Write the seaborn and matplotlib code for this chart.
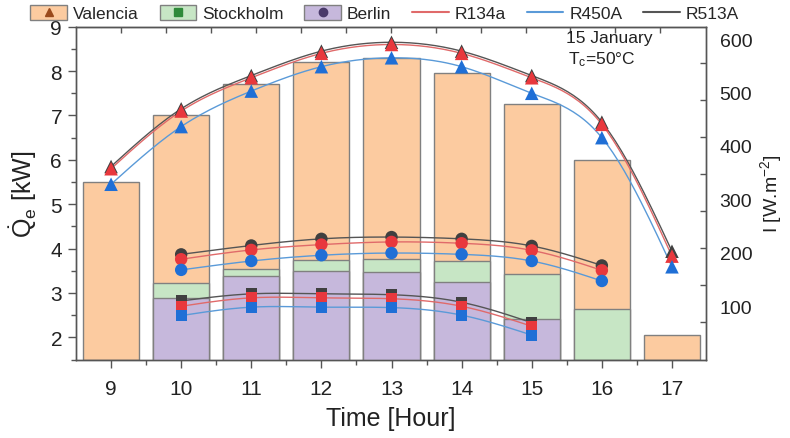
import numpy as np
import pandas as pd
import matplotlib
matplotlib.use("Agg")
import matplotlib.pyplot as plt
from matplotlib.patches import Patch
from matplotlib.lines import Line2D
import seaborn as sns

# ---------------- data ----------------
hours = [9, 10, 11, 12, 13, 14, 15, 16, 17]
# irradiance bars (right axis, W/m2)
irr_valencia = [332, 457, 515, 557, 565, 536, 478, 374, 46]
irr_stockholm_hours = [10, 11, 12, 13, 14, 15, 16]
irr_stockholm = [143, 169, 186, 189, 184, 160, 94]
irr_berlin_hours = [10, 11, 12, 13, 14, 15]
irr_berlin = [115, 156, 165, 163, 145, 75]

# cooling capacity (left axis, kW)
val_hours = [9, 10, 11, 12, 13, 14, 15, 16, 17]
val_R134a = [5.80, 7.10, 7.85, 8.40, 8.60, 8.40, 7.85, 6.80, 3.83]
val_R450A = [5.45, 6.75, 7.55, 8.10, 8.30, 8.10, 7.50, 6.50, 3.59]
val_R513A = [5.85, 7.15, 7.90, 8.45, 8.65, 8.45, 7.90, 6.85, 3.94]

ber_hours = [10, 11, 12, 13, 14, 15, 16]
ber_R134a = [3.76, 3.97, 4.09, 4.15, 4.12, 3.96, 3.51]
ber_R450A = [3.52, 3.72, 3.85, 3.90, 3.87, 3.72, 3.27]
ber_R513A = [3.87, 4.07, 4.22, 4.26, 4.22, 4.06, 3.62]

sto_hours = [10, 11, 12, 13, 14, 15]
sto_R134a = [2.70, 2.89, 2.89, 2.87, 2.70, 2.25]
sto_R450A = [2.49, 2.68, 2.68, 2.67, 2.50, 2.05]
sto_R513A = [2.82, 2.98, 2.98, 2.96, 2.79, 2.33]

refrigerants = ["R134a", "R450A", "R513A"]

# ---------------- style ----------------
sns.set_style("ticks")
plt.rcParams["font.family"] = ["Liberation Sans", "DejaVu Sans"]
plt.rcParams["mathtext.fontset"] = "custom"
plt.rcParams["mathtext.rm"] = "Liberation Sans"
plt.rcParams["mathtext.it"] = "Liberation Sans:italic"

c_val, c_sto, c_ber = "#fccba0", "#c7e6c5", "#c6b8dc"
bar_edge = "#808080"
mk_col = {"R134a": "#e8383d", "R450A": "#1f6fd6", "R513A": "#404040"}
ln_col = {"R134a": "#e06a6a", "R450A": "#5a9ad8", "R513A": "#555555"}
axis_col = "#555555"


def natural_spline(x, y, n=200):
    x = np.asarray(x, float)
    y = np.asarray(y, float)
    k = len(x)
    h = np.diff(x)
    A = np.zeros((k, k))
    b = np.zeros(k)
    A[0, 0] = A[-1, -1] = 1
    for i in range(1, k - 1):
        A[i, i - 1] = h[i - 1]
        A[i, i] = 2 * (h[i - 1] + h[i])
        A[i, i + 1] = h[i]
        b[i] = 6 * ((y[i + 1] - y[i]) / h[i] - (y[i] - y[i - 1]) / h[i - 1])
    M = np.linalg.solve(A, b)
    xs = np.linspace(x[0], x[-1], n)
    idx = np.clip(np.searchsorted(x, xs) - 1, 0, k - 2)
    x0, x1 = x[idx], x[idx + 1]
    hh = x1 - x0
    t0, t1 = x1 - xs, xs - x0
    ys = (M[idx] * t0 ** 3 + M[idx + 1] * t1 ** 3) / (6 * hh) \
        + (y[idx] / hh - M[idx] * hh / 6) * t0 \
        + (y[idx + 1] / hh - M[idx + 1] * hh / 6) * t1
    return xs, ys


fig = plt.figure(figsize=(7.9, 4.39), dpi=100)
ax = fig.add_axes([0.0962, 0.1788, 0.797, 0.758])
ax2 = ax.twinx()
ax.set_zorder(ax2.get_zorder() + 1)
ax.patch.set_visible(False)

# ---------------- bars (right axis) ----------------
ax2.bar(hours, irr_valencia, width=0.8, color=c_val, edgecolor=bar_edge, linewidth=1.0, zorder=1)
ax2.bar(irr_stockholm_hours, irr_stockholm, width=0.8, color=c_sto, edgecolor=bar_edge, linewidth=1.0, zorder=2)
ax2.bar(irr_berlin_hours, irr_berlin, width=0.8, color=c_ber, edgecolor=bar_edge, linewidth=1.0, zorder=3)
ax2.set_ylim(0, 623)

# ---------------- curves + markers (left axis) ----------------
groups = [
    (val_hours, {"R134a": val_R134a, "R450A": val_R450A, "R513A": val_R513A}, "^", 95),
    (ber_hours, {"R134a": ber_R134a, "R450A": ber_R450A, "R513A": ber_R513A}, "o", 80),
    (sto_hours, {"R134a": sto_R134a, "R450A": sto_R450A, "R513A": sto_R513A}, "s", 62),
]
for hrs, series, mk, sz in groups:
    for ref in ["R513A", "R134a", "R450A"]:
        xs, ys = natural_spline(hrs, series[ref])
        sns.lineplot(x=xs, y=ys, ax=ax, color=ln_col[ref], linewidth=1.0, zorder=4, legend=False)
    for ref in ["R513A", "R134a", "R450A"]:
        df = pd.DataFrame({"h": hrs, "q": series[ref]})
        sns.scatterplot(data=df, x="h", y="q", ax=ax, marker=mk, s=sz, color=mk_col[ref],
                        edgecolor="none", linewidth=0, zorder=5, legend=False)

ax.set_xlim(8.5, 17.48)
ax.set_ylim(1.5, 9)

# ---------------- axes styling ----------------
ax.set_xticks(hours)
ax.set_xticks(np.arange(9.5, 17.5, 1.0), minor=True)
ax.set_yticks(np.arange(2, 10, 1))
ax.set_yticks(np.arange(1.5, 9.0, 1.0), minor=True)
ax.tick_params(axis="both", which="major", direction="out", length=6, width=1, colors=axis_col,
               labelsize=15, labelcolor="#222222")
ax.tick_params(axis="both", which="minor", direction="out", length=3.5, width=1, colors=axis_col)
ax.tick_params(axis="x", which="both", top=False)
ax.tick_params(axis="x", pad=8)
ax.tick_params(axis="y", pad=4)
ax.set_xlabel("Time [Hour]", fontsize=18, color="#222222", labelpad=6)
ax.set_ylabel(r"$\dot{\mathrm{Q}}_\mathrm{e}$ [kW]", fontsize=18, color="#222222", labelpad=8)

ax2.set_yticks([100, 200, 300, 400, 500, 600])
ax2.set_yticks(np.arange(69.5, 600, 69.5), minor=True)
ax2.tick_params(axis="y", which="major", length=0, labelsize=14, labelcolor="#222222", pad=10)
ax2.tick_params(axis="y", which="minor", direction="in", length=4, width=1, colors=axis_col)
ax2.set_ylabel(r"I [W.m$^{-2}$]", fontsize=14, color="#222222", labelpad=4)

secx = ax.secondary_xaxis("top")
secx.set_xticks(9.142 + 0.641 * np.arange(13))
secx.set_xticklabels([])
secx.tick_params(direction="in", length=4, width=1, colors=axis_col)

for a in (ax, ax2):
    for sp in a.spines.values():
        sp.set_color(axis_col)
        sp.set_linewidth(1.0)
secx.spines["top"].set_color(axis_col)

ax.text(0.778, 0.967, "15 January", transform=ax.transAxes, fontsize=12.5, ha="left", va="center",
        color="#222222")
ax.text(0.781, 0.905, r"T$_\mathrm{c}$=50°C", transform=ax.transAxes, fontsize=12.5, ha="left",
        va="center", color="#222222")

# ---------------- legend ----------------
def patch_handle(fc, marker, mc):
    return (Patch(facecolor=fc, edgecolor=bar_edge, linewidth=1.0),
            Line2D([], [], linestyle="none", marker=marker, color=mc, markersize=6))

handles = [
    patch_handle(c_val, "^", "#9a4a1c"),
    patch_handle(c_sto, "s", "#2f8a3a"),
    patch_handle(c_ber, "o", "#4a3a6a"),
    Line2D([], [], color=ln_col["R134a"], linewidth=1.5),
    Line2D([], [], color=ln_col["R450A"], linewidth=1.5),
    Line2D([], [], color=ln_col["R513A"], linewidth=1.5),
]
labels = ["Valencia", "Stockholm", "Berlin", "R134a", "R450A", "R513A"]
fig.legend(handles, labels, loc="center", bbox_to_anchor=(0.487, 0.968), ncol=6, frameon=False,
           fontsize=12.5, handlelength=2.1, handleheight=1.0, handletextpad=0.35, columnspacing=1.2)

fig.savefig("out.png", dpi=100)
